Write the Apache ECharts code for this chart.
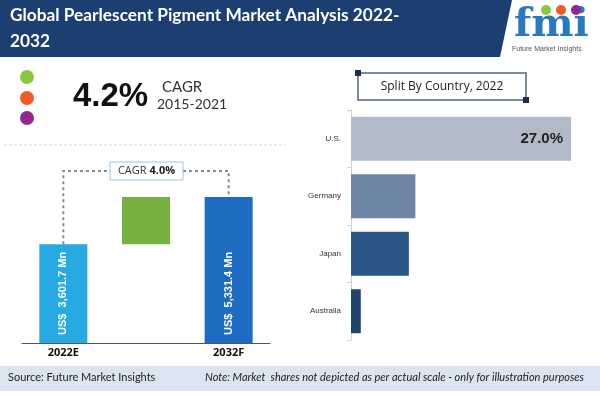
<!DOCTYPE html>
<html>
<head>
<meta charset="utf-8">
<script src="https://cdn.jsdelivr.net/npm/echarts@6/dist/echarts.min.js"></script>
<style>
  * { margin: 0; padding: 0; }
  #chart { width: 600px; height: 396px; background: #fff; }
</style>
</head>
<body>
<div id="chart"></div>
<script>
// market size, US$ Mn
const years = ["2022E", "", "2032F"];
const marketValue = [3601.7, 5331.4];
const yearColors = ["#27aae1", "#76b041", "#1d6cc2"];

// country split, 2022 (%)
const countries = ["U.S.", "Germany", "Japan", "Australia"];
const countryShare = [27.0, 7.9, 7.1, 1.2];
const countryColors = ["#b0bac9", "#6e85a5", "#2a5785", "#1f446d"];

const chart = echarts.init(document.getElementById("chart"), null, { renderer: "canvas" });

const money = (v) =>
  "US$  " + v.toLocaleString("en-US", { minimumFractionDigits: 1, maximumFractionDigits: 1 }) + " Mn";

const barLabel = {
  show: true,
  rotate: 90,
  position: "insideBottom",
  distance: 8,
  align: "left",
  verticalAlign: "middle",
  color: "#fff",
  fontFamily: "Liberation Sans",
  fontWeight: "bold",
  fontSize: 11,
  formatter: (p) => money(p.value),
};

const increment = +(marketValue[1] - marketValue[0]).toFixed(1);

const option = {
  animation: false,
  grid: [
    { left: 22, right: 330, top: 197, bottom: 53 },
    { left: 351, right: 29, top: 110, bottom: 56 },
  ],
  xAxis: [
    {
      gridIndex: 0,
      type: "category",
      data: years,
      axisLine: { lineStyle: { color: "#555", width: 1 } },
      axisTick: { show: false },
      axisLabel: { color: "#111", fontWeight: "bold", fontSize: 11, fontFamily: "Open Sans", margin: 4 },
    },
    { gridIndex: 1, type: "value", min: 0, max: countryShare[0], show: false },
  ],
  yAxis: [
    { gridIndex: 0, type: "value", min: 0, max: "dataMax", show: false },
    {
      gridIndex: 1,
      type: "category",
      inverse: true,
      data: countries,
      axisLine: { lineStyle: { color: "#d0d0d0" } },
      axisTick: { show: true, length: 4, lineStyle: { color: "#d0d0d0" } },
      axisLabel: { color: "#333", fontSize: 8, fontFamily: "Liberation Sans", margin: 10 },
    },
  ],
  series: [
    {
      type: "bar",
      stack: "walk",
      xAxisIndex: 0,
      yAxisIndex: 0,
      silent: true,
      itemStyle: { color: "transparent" },
      data: [0, marketValue[0], 0],
    },
    {
      type: "bar",
      stack: "walk",
      xAxisIndex: 0,
      yAxisIndex: 0,
      barWidth: 48,
      data: [
        { value: marketValue[0], itemStyle: { color: yearColors[0] }, label: barLabel },
        { value: increment, itemStyle: { color: yearColors[1] } },
        { value: marketValue[1], itemStyle: { color: yearColors[2] }, label: barLabel },
      ],
    },
    {
      type: "bar",
      xAxisIndex: 1,
      yAxisIndex: 1,
      barWidth: 44,
      data: countryShare.map((v, i) => ({
        value: v,
        itemStyle: { color: countryColors[i] },
        label: {
          show: i === 0,
          position: "insideRight",
          distance: 8,
          color: "#222",
          fontSize: 15,
          fontWeight: "bold",
          fontFamily: "Liberation Sans",
          formatter: (p) => p.value.toFixed(1) + "%",
        },
      })),
    },
  ],
};

chart.setOption(option);

// decorations: header, KPI, legend box, footer, CAGR connector
const p22 = chart.convertToPixel({ xAxisIndex: 0, yAxisIndex: 0 }, [0, marketValue[0]]);
const p32 = chart.convertToPixel({ xAxisIndex: 0, yAxisIndex: 0 }, [2, marketValue[1]]);
const bracketY = 171;
const boxL = 110, boxR = 183;
const dash = { stroke: "#8a8a8a", lineWidth: 2, lineDash: [3, 3] };

const graphic = [
  // header banner
  { type: "polygon", shape: { points: [[0, 0], [512, 0], [500, 57], [0, 57]] }, style: { fill: "#1c3e70" } },
  { type: "text", left: 10, top: 7, style: { text: "Global Pearlescent Pigment Market Analysis 2022-", fill: "#fff", font: "bold 17.3px Lato" } },
  { type: "text", left: 10, top: 33, style: { text: "2032", fill: "#fff", font: "bold 17.3px Lato" } },
  // logo
  { type: "text", left: 514, top: 6, style: { text: "fmi", fill: "#2a78c0", font: "bold 40px 'DejaVu Serif'" } },
  { type: "circle", shape: { cx: 546, cy: 10, r: 5 }, style: { fill: "#8dc63f" } },
  { type: "circle", shape: { cx: 561, cy: 10, r: 5 }, style: { fill: "#f15a29" } },
  { type: "circle", shape: { cx: 576, cy: 10, r: 5 }, style: { fill: "#92278f" } },
  { type: "text", left: 512, top: 46, style: { text: "Future Market Insights", fill: "#555", font: "7px 'Liberation Sans'" } },
  // KPI
  { type: "circle", shape: { cx: 27, cy: 77, r: 7 }, style: { fill: "#8dc63f" } },
  { type: "circle", shape: { cx: 27, cy: 98, r: 7 }, style: { fill: "#f15a29" } },
  { type: "circle", shape: { cx: 27, cy: 118, r: 7 }, style: { fill: "#92278f" } },
  { type: "text", left: 73, top: 80, style: { text: "4.2%", fill: "#111", font: "bold 33px 'Liberation Sans'" } },
  { type: "text", left: 162, top: 80, style: { text: "CAGR", fill: "#333", font: "15px Lato" } },
  { type: "text", left: 157, top: 97, style: { text: "2015-2021", fill: "#333", font: "14px Lato" } },
  { type: "line", shape: { x1: 4, y1: 145, x2: 285, y2: 145 }, style: { stroke: "#d5d5d5", lineWidth: 1, lineDash: [3, 2] } },
  // split box
  { type: "rect", shape: { x: 358, y: 73, width: 168, height: 27 }, style: { fill: "#fff", stroke: "#51657f", lineWidth: 1.5 } },
  { type: "rect", shape: { x: 355, y: 70, width: 6, height: 6 }, style: { fill: "#1c2d45" } },
  { type: "rect", shape: { x: 523, y: 97, width: 6, height: 6 }, style: { fill: "#1c2d45" } },
  { type: "text", x: 442, y: 87, style: { text: "Split By Country, 2022", fill: "#222", font: "12px 'Open Sans'", align: "center", verticalAlign: "middle" } },
  // CAGR connector
  { type: "polyline", shape: { points: [[p22[0], p22[1]], [p22[0], bracketY], [boxL, bracketY]] }, style: Object.assign({ fill: null }, dash) },
  { type: "polyline", shape: { points: [[boxR, bracketY], [p32[0], bracketY], [p32[0], p32[1]]] }, style: Object.assign({ fill: null }, dash) },
  { type: "rect", shape: { x: boxL, y: 162, width: boxR - boxL, height: 18 }, style: { fill: "#fff", stroke: "#9dc3e6", lineWidth: 1 } },
  {
    type: "text", x: (boxL + boxR) / 2, y: 171,
    style: {
      text: "{n|CAGR }{b|4.0%}", align: "center", verticalAlign: "middle",
      rich: {
        n: { fill: "#333", font: "11px 'Open Sans'" },
        b: { fill: "#222", font: "bold 11px 'Open Sans'" },
      },
    },
  },
  // footer
  { type: "rect", shape: { x: 0, y: 366, width: 600, height: 25 }, style: { fill: "#dbe5f1" } },
  { type: "text", left: 8, top: 372, style: { text: "Source: Future Market Insights", fill: "#222", font: "11px Lato" } },
  { type: "text", left: 205, top: 372, style: { text: "Note: Market  shares not depicted as per actual scale - only for illustration purposes", fill: "#222", font: "italic 11px Lato" } },
];

chart.setOption({ graphic: graphic });
</script>
</body>
</html>
